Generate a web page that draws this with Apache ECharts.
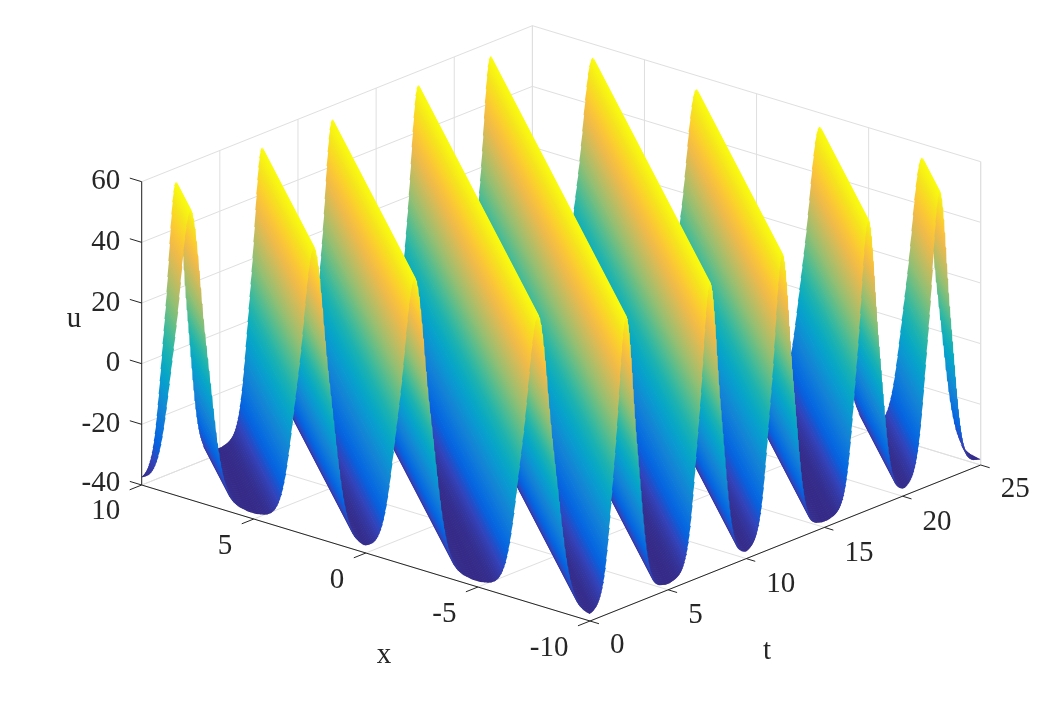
<!DOCTYPE html>
<html>
<head>
<meta charset="utf-8">
<style>html,body{margin:0;padding:0;background:#fff}#c{width:1040px;height:701px}</style>
<script src="https://cdn.jsdelivr.net/npm/echarts@6/dist/echarts.min.js"></script>
</head>
<body>
<div id="c"></div>
<script>
// ---- values ----
const xTicks = [10, 5, 0, -5, -10];
const tTicks = [0, 5, 10, 15, 20, 25];
const uTicks = [-40, -20, 0, 20, 40, 60];
// x - t value of each crest line
const crestPhase = [7.8125, 2.3125, -2.1875, -7.6875, -12.3125, -17.6875, -22.3125, -27.8125, -32.375];
// u at 0, 0.0625, 0.125 ... away from a crest, last value is the valley floor
const crestProfile = [55.5, 54.5, 52.5, 49.5, 45.5, 41, 36, 30.5, 25.5, 20.5, 16, 12, 8, 4, 0, -4,
  -8, -12, -15.5, -19, -22, -24.7, -27, -29, -30.7, -32, -33.2, -34.1, -34.9, -35.5, -36, -36.4,
  -36.7, -37, -37.2, -37.4, -37.5, -37.6, -37.7, -37.8, -37.9, -38];
const parula = ['#352a87','#3243ba','#0363e1','#0d75dc','#1485d4','#0998d1','#06a7c6','#15b1b4','#38b99e',
  '#65be86','#92bf73','#b7bd64','#d9ba56','#f8ba44','#fcce2e','#f5e41d','#f9fb0e'];
const uColorMin = -38, uColorMax = 55.5;

// ---- view of the box: screen position of three floor corners and the height scale ----
const cornerA = [141.7, 485];    // x=10,  t=0
const cornerB = [590, 621];      // x=-10, t=0
const cornerC = [980.7, 465];    // x=-10, t=25
const uScale = 3.033;
const gridStep = 0.0625;

function project(x, t, u) {
  const a = (10 - x) / 20, b = t / 25, h = (u + 40) * uScale;
  return [
    cornerA[0] + a * (cornerB[0] - cornerA[0]) + b * (cornerC[0] - cornerB[0]),
    cornerA[1] + a * (cornerB[1] - cornerA[1]) + b * (cornerC[1] - cornerB[1]) - h
  ];
}
function uOfPhase(phase) {
  let best = crestProfile[crestProfile.length - 1];
  for (const c of crestPhase) {
    const n = Math.round(Math.abs(phase - c) / gridStep);
    if (n < crestProfile.length && crestProfile[n] > best) best = crestProfile[n];
  }
  return best;
}
const uColor = u => echarts.color.lerp((u - uColorMin) / (uColorMax - uColorMin), parula);

// ---- surface strips between neighbouring x-t lines, far strips first ----
const surfaceRows = [];
const phaseCount = Math.round(45 / gridStep);
for (let k = 0; k < phaseCount; k++) {
  const lo = -35 + k * gridStep, hi = lo + gridStep;
  surfaceRows.push([lo, hi, uOfPhase(lo), uOfPhase(hi)]);
}
const stripEnds = (c, u) => {
  const t0 = Math.max(0, -10 - c), t1 = Math.min(25, 10 - c);
  return [project(c + t0, t0, u), project(c + t1, t1, u)];
};
// ---- frame segments: x1,t1,u1,x2,t2,u2 ----
const frameRows = [];
const seg = (a, b) => frameRows.push([...a, ...b]);
const uLo = uTicks[0], uHi = uTicks[uTicks.length - 1];
uTicks.forEach(u => {
  seg([10, 0, u], [10, 25, u]);
  seg([10, 25, u], [-10, 25, u]);
});
tTicks.forEach(t => {
  seg([10, t, uLo], [10, t, uHi]);
  seg([10, t, uLo], [-10, t, uLo]);
});
xTicks.forEach(x => {
  seg([x, 25, uLo], [x, 25, uHi]);
  seg([x, 0, uLo], [x, 25, uLo]);
});
seg([-10, 25, uLo], [-10, 25, uHi]);
const axisRows = [];
const aseg = (a, b) => axisRows.push([...a, ...b]);
aseg([10, 0, uLo], [-10, 0, uLo]);
aseg([-10, 0, uLo], [-10, 25, uLo]);
aseg([10, 0, uLo], [10, 0, uHi]);
uTicks.forEach(u => aseg([10, 0, u], [10.53, 0, u]));
xTicks.forEach(x => aseg([x, 0, uLo], [x, -0.77, uLo]));
tTicks.forEach(t => aseg([-10, t, uLo], [-10.4, t, uLo]));

// ---- text rows: label, x, t, u, dx, dy, align ----
const textRows = [];
uTicks.forEach(u => textRows.push([String(u), 10, 0, u, -21.5, u === uLo ? -2 : 0, 'right']));
xTicks.forEach(x => textRows.push([String(x), x, 0, uLo, -21.5, x === 10 ? 26 : 27, 'right']));
tTicks.forEach(t => textRows.push([String(t), -10, t, uLo, 20, (t === 0 || t === 25) ? 24 : 26, 'left']));
const axisTitles = [['u', 74, 319], ['x', 384, 655], ['t', 767, 651]];

const ink = '#262626', font = '"Liberation Serif","Times New Roman",serif', fontPx = 29;
const lineItem = (api, stroke) => {
  const p = api.coord(project(api.value(0), api.value(1), api.value(2)));
  const q = api.coord(project(api.value(3), api.value(4), api.value(5)));
  return {type: 'line', shape: {x1: p[0], y1: p[1], x2: q[0], y2: q[1]}, style: {stroke, lineWidth: 1, fill: null}};
};
const chart = echarts.init(document.getElementById('c'), null, {renderer: 'canvas', width: 1040, height: 701});
chart.setOption({
  animation: false,
  backgroundColor: '#fff',
  grid: {left: 0, right: 0, top: 0, bottom: 0},
  xAxis: {type: 'value', min: 0, max: 1040, show: false},
  yAxis: {type: 'value', min: 0, max: 701, inverse: true, show: false},
  series: [
    {type: 'custom', coordinateSystem: 'cartesian2d', data: frameRows, silent: true, clip: false, z: 1,
      progressive: 0, renderItem: (p, api) => lineItem(api, '#dfdfdf')},
    {type: 'custom', coordinateSystem: 'cartesian2d', data: surfaceRows, silent: true, clip: false, z: 2,
      progressive: 0, encode: {x: 0, y: 2},
      renderItem: (p, api) => {
        const lo = api.value(0), hi = api.value(1), uA = api.value(2), uB = api.value(3);
        const [a0, a1] = stripEnds(lo, uA).map(s => api.coord(s));
        const [b0, b1] = stripEnds(hi, uB).map(s => api.coord(s));
        // colour changes only across the strip, so the gradient runs square to the x-t line
        const o = api.coord(project(0, 0, 0)), d = api.coord(project(1, 1, 0));
        const ex = d[0] - o[0], ey = d[1] - o[1], len = Math.hypot(ex, ey);
        const nx = -ey / len, ny = ex / len;
        const s = (b0[0] - a0[0]) * nx + (b0[1] - a0[1]) * ny;
        const fill = Math.abs(s) < 1e-3 ? uColor(uB) : new echarts.graphic.LinearGradient(
          a0[0], a0[1], a0[0] + nx * s, a0[1] + ny * s,
          [{offset: 0, color: uColor(uA)}, {offset: 1, color: uColor(uB)}], true);
        // the near edge runs a little under the next strip, which hides the seam
        const px = nx * (s < 0 ? -0.7 : 0.7), py = ny * (s < 0 ? -0.7 : 0.7);
        const under = q => [q[0] + px, q[1] + py];
        return {type: 'polygon', shape: {points: [a0, a1, under(b1), under(b0)]}, style: {fill}};
      }},
    {type: 'custom', coordinateSystem: 'cartesian2d', data: axisRows, silent: true, clip: false, z: 3,
      progressive: 0, renderItem: (p, api) => lineItem(api, ink)},
    {type: 'custom', coordinateSystem: 'cartesian2d', data: textRows.map((r, k) => [k]), silent: true, clip: false, z: 4,
      progressive: 0, renderItem: (p, api) => {
        const r = textRows[api.value(0)];
        const s = api.coord(project(r[1], r[2], r[3]));
        return {type: 'text', x: s[0] + r[4], y: s[1] + r[5],
          style: {text: r[0], fill: ink, font: fontPx + 'px ' + font, align: r[6], verticalAlign: 'middle'}};
      }},
    {type: 'custom', coordinateSystem: 'cartesian2d', data: axisTitles.map((r, k) => [k]), silent: true, clip: false, z: 4,
      progressive: 0, renderItem: (p, api) => {
        const r = axisTitles[api.value(0)];
        const s = api.coord([r[1], r[2]]);
        return {type: 'text', x: s[0], y: s[1],
          style: {text: r[0], fill: ink, font: fontPx + 'px ' + font, align: 'center', verticalAlign: 'middle'}};
      }}
  ]
});
</script>
</body>
</html>
